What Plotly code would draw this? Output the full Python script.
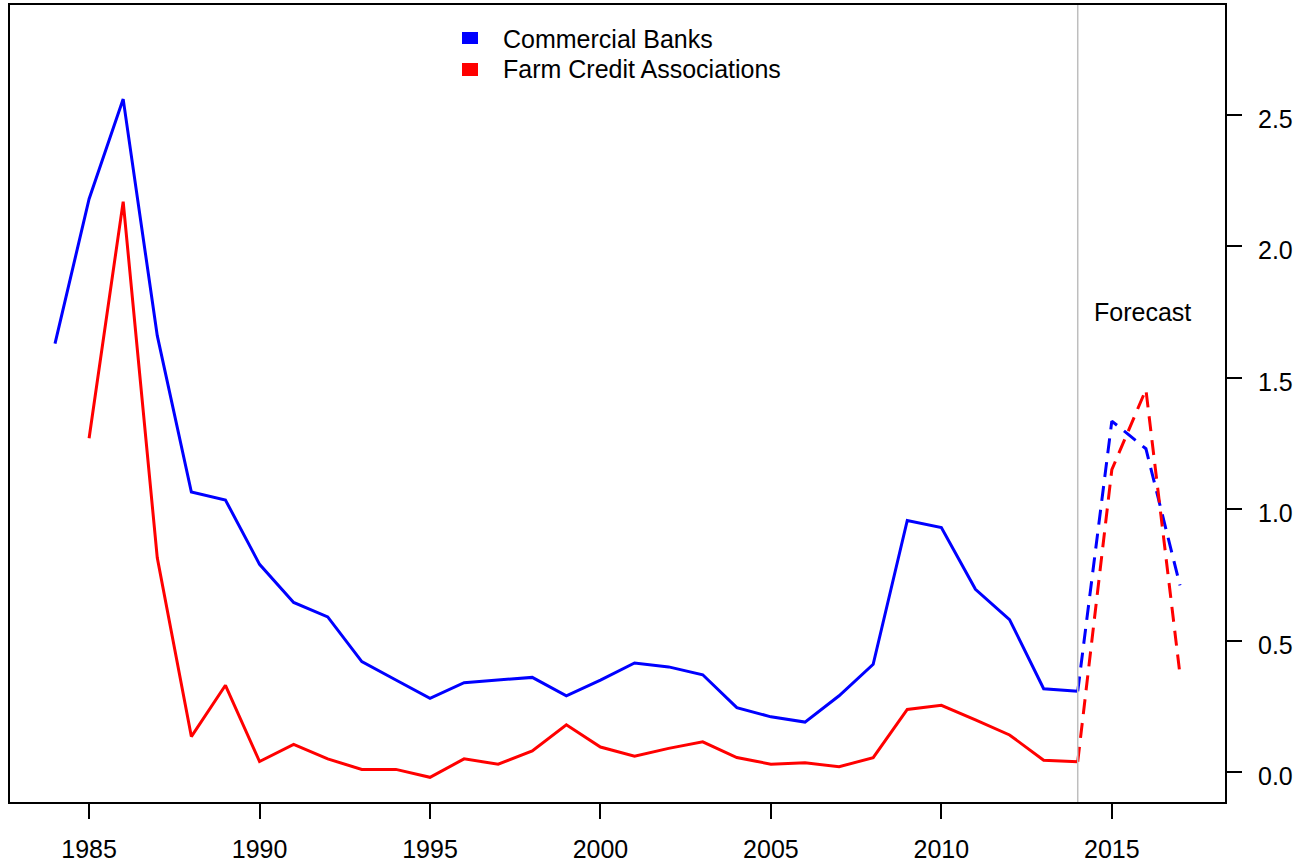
import plotly.graph_objects as go

# Observed series, 1984-2014
years = list(range(1984, 2015))
banks = [1.63, 2.18, 2.56, 1.66, 1.065, 1.035, 0.79, 0.645, 0.59, 0.42,
         0.35, 0.28, 0.34, 0.35, 0.36, 0.29, 0.35, 0.415, 0.40, 0.37,
         0.245, 0.21, 0.19, 0.29, 0.41, 0.957, 0.93, 0.695, 0.58, 0.317,
         0.307]
fca_years = list(range(1985, 2015))
fca = [1.27, 2.17, 0.815, 0.135, 0.33, 0.04, 0.105, 0.05, 0.01, 0.01,
       -0.02, 0.05, 0.03, 0.08, 0.18, 0.095, 0.06, 0.09, 0.115, 0.055,
       0.03, 0.035, 0.02, 0.055, 0.238, 0.254, 0.198, 0.141, 0.045, 0.039]

# Forecast series, 2014-2017
fc_years = [2014, 2015, 2016, 2017]
banks_fc = [0.307, 1.335, 1.23, 0.71]
fca_fc = [0.039, 1.15, 1.455, 0.37]

forecast_start = 2014
x_ticks = [1985, 1990, 1995, 2000, 2005, 2010, 2015]
y_ticks = [0.0, 0.5, 1.0, 1.5, 2.0, 2.5]

legend_names = ["Commercial Banks", "Farm Credit Associations"]
legend_colors = ["#0000FF", "#FF0000"]

BLUE, RED = legend_colors
FONT = "Liberation Sans, Arial, sans-serif"
FS = 25

fig = go.Figure()

fig.add_trace(go.Scatter(x=years, y=banks, mode="lines", name=legend_names[0],
                         line=dict(color=BLUE, width=3), showlegend=False))
fig.add_trace(go.Scatter(x=fca_years, y=fca, mode="lines", name=legend_names[1],
                         line=dict(color=RED, width=3), showlegend=False))
fig.add_trace(go.Scatter(x=fc_years, y=banks_fc, mode="lines",
                         line=dict(color=BLUE, width=3, dash="15px,9px"),
                         showlegend=False))
fig.add_trace(go.Scatter(x=fc_years, y=fca_fc, mode="lines",
                         line=dict(color=RED, width=3, dash="15px,9px"),
                         showlegend=False))

# Boundary between observed values and forecast
fig.add_vline(x=forecast_start, line=dict(color="#BEBEBE", width=1.5))

fig.add_annotation(x=2015.9, y=1.75, text="Forecast", showarrow=False,
                   font=dict(size=FS, color="black", family=FONT))

# Key: coloured squares with labels, placed in the upper middle of the panel
key_rows = [(0.9511, 0.9661, 0.9573), (0.9109, 0.9272, 0.9197)]
for name, color, (y0, y1, yt) in zip(legend_names, legend_colors, key_rows):
    fig.add_shape(type="rect", xref="paper", yref="paper",
                  x0=0.372, x1=0.3852, y0=y0, y1=y1,
                  fillcolor=color, line=dict(width=0))
    fig.add_annotation(xref="paper", yref="paper", x=0.4045, y=yt,
                       xanchor="left", yanchor="middle", text=name,
                       showarrow=False,
                       font=dict(size=FS, color="black", family=FONT))

# Right-hand value labels, set a little clear of the tick marks
for v in y_ticks:
    fig.add_annotation(xref="paper", yref="y", x=1.0255, y=v,
                       xanchor="left", yanchor="middle", yshift=-4,
                       text=f"{v:.1f}", showarrow=False,
                       font=dict(size=FS, color="black", family=FONT))

fig.update_layout(
    width=1298, height=864,
    margin=dict(l=10, r=73, t=5, b=62),
    paper_bgcolor="white", plot_bgcolor="white",
    font=dict(family=FONT, size=FS, color="black"),
    showlegend=False,
    xaxis=dict(range=[1982.68, 2018.32], tickvals=x_ticks, automargin=False,
               ticks="outside", ticklen=15, tickwidth=1.5, tickcolor="black",
               ticklabelstandoff=9,
               showline=True, linecolor="black", linewidth=1.5, mirror=True,
               showgrid=False, zeroline=False),
    yaxis=dict(range=[-0.114, 2.918], tickvals=y_ticks, showticklabels=False,
               side="right", ticks="outside", ticklen=15, tickwidth=1.5,
               tickcolor="black", automargin=False,
               showline=True, linecolor="black",
               linewidth=1.5, mirror=True, showgrid=False, zeroline=False),
)

fig.write_html("out.html")
